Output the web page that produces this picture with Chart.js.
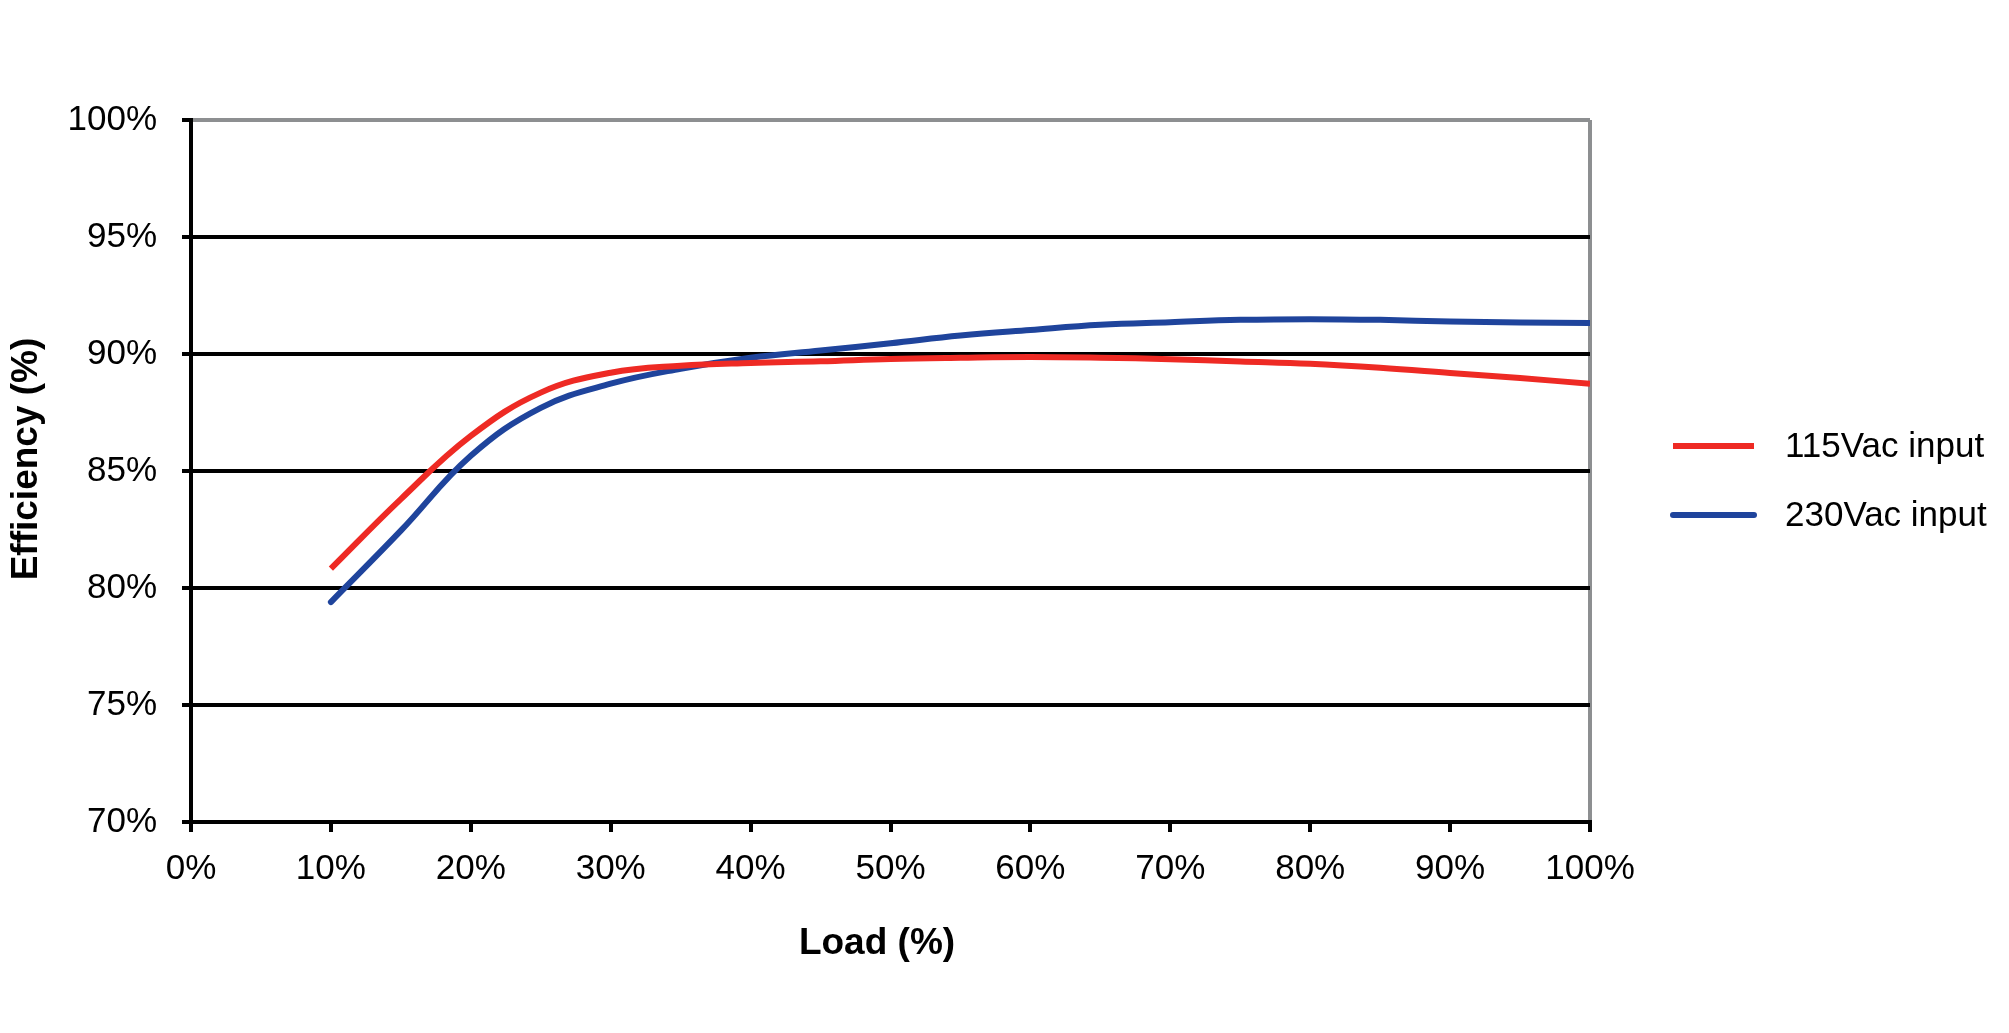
<!DOCTYPE html>
<html><head><meta charset="utf-8">
<script src="https://cdn.jsdelivr.net/npm/chart.js@4.4.1/dist/chart.umd.min.js"></script>
<style>html,body{margin:0;padding:0;background:#fff;overflow:hidden}canvas{display:block}</style>
</head><body>
<canvas id="c" width="2009" height="1033"></canvas>
<script>
// Load (%) sample points
const loads = [10,15,20,25,30,35,40,45,50,55,60,65,70,75,80,85,90,95,100];
// Efficiency (%) at 115Vac input
const eff115 = [80.83,83.8,86.5,88.35,89.2,89.5,89.62,89.69,89.79,89.84,89.87,89.84,89.78,89.68,89.58,89.41,89.19,88.97,88.73];
// Efficiency (%) at 230Vac input
const eff230 = [79.4,82.45,85.65,87.7,88.73,89.37,89.84,90.15,90.46,90.79,91.03,91.25,91.36,91.46,91.49,91.46,91.39,91.35,91.33];
const seriesLabels = ['115Vac input','230Vac input'];
const xTickValues = [0,10,20,30,40,50,60,70,80,90,100];
const yTickValues = [70,75,80,85,90,95,100];
const xTitle = 'Load (%)';
const yTitle = 'Efficiency (%)';

const FONT = "'Liberation Sans', Arial, sans-serif";
const RED = '#ee2a24';
const BLUE = '#1f449c';
const GRAY = '#8d8f91';

const textPlugin = {
  id: 'legendAndTitles',
  afterDraw(chart) {
    const ctx = chart.ctx;
    const ys = [446, 515];
    ctx.save();
    chart.data.datasets.forEach((ds, i) => {
      ctx.beginPath();
      ctx.strokeStyle = ds.borderColor;
      ctx.lineWidth = 6;
      ctx.lineCap = ds.borderCapStyle || 'butt';
      ctx.moveTo(1673, ys[i]);
      ctx.lineTo(1754, ys[i]);
      ctx.stroke();
      ctx.fillStyle = '#000';
      ctx.font = '35px ' + FONT;
      ctx.textBaseline = 'middle';
      ctx.textAlign = 'left';
      ctx.fillText(ds.label, 1785, ys[i] + 1);
    });
    // axis titles
    ctx.font = 'bold 37px ' + FONT;
    ctx.textAlign = 'center';
    ctx.textBaseline = 'middle';
    ctx.fillStyle = '#000';
    ctx.fillText(xTitle, 877, 944);
    ctx.translate(27, 459);
    ctx.rotate(-Math.PI / 2);
    ctx.fillText(yTitle, 0, 0);
    ctx.restore();
  }
};

new Chart(document.getElementById('c'), {
  type: 'line',
  data: {
    datasets: [
      { label: seriesLabels[0], data: loads.map((x,i)=>({x, y: eff115[i]})), borderColor: RED, backgroundColor: RED,
        borderWidth: 6, pointRadius: 0, tension: 0.4, borderCapStyle: 'butt', fill: false },
      { label: seriesLabels[1], data: loads.map((x,i)=>({x, y: eff230[i]})), borderColor: BLUE, backgroundColor: BLUE,
        borderWidth: 6, pointRadius: 0, tension: 0.4, borderCapStyle: 'round', fill: false }
    ]
  },
  options: {
    responsive: false,
    animation: false,
    devicePixelRatio: 1,
    layout: { padding: { top: 120, right: 419, bottom: 0, left: 0 } },
    plugins: { legend: { display: false }, tooltip: { enabled: false } },
    scales: {
      x: {
        type: 'linear', min: 0, max: 100,
        afterBuildTicks: s => { s.ticks = xTickValues.map(v => ({ value: v })); },
        afterFit: s => { s.height = 211; },
        ticks: { callback: v => v + '%', font: { family: FONT, size: 35 }, color: '#000', padding: 16, maxRotation: 0, autoSkip: false },
        grid: {
          color: c => (c.tick && c.tick.value === 100) ? GRAY : 'rgba(0,0,0,0)',
          tickColor: '#000', lineWidth: 4, tickWidth: 4, tickLength: 10, drawOnChartArea: true
        },
        border: { display: true, color: '#000', width: 4 },
        title: { display: false }
      },
      y: {
        type: 'linear', min: 70, max: 100,
        afterBuildTicks: s => { s.ticks = yTickValues.map(v => ({ value: v })); },
        afterFit: s => { s.width = 191; },
        ticks: { callback: v => v + '%', font: { family: FONT, size: 35 }, color: '#000', padding: 25 },
        grid: {
          color: c => (c.tick && c.tick.value === 100) ? GRAY : '#000',
          tickColor: '#000', lineWidth: 4, tickWidth: 4, tickLength: 9
        },
        border: { display: true, color: '#000', width: 4 },
        title: { display: false }
      }
    }
  },
  plugins: [textPlugin]
});
</script>
</body></html>
